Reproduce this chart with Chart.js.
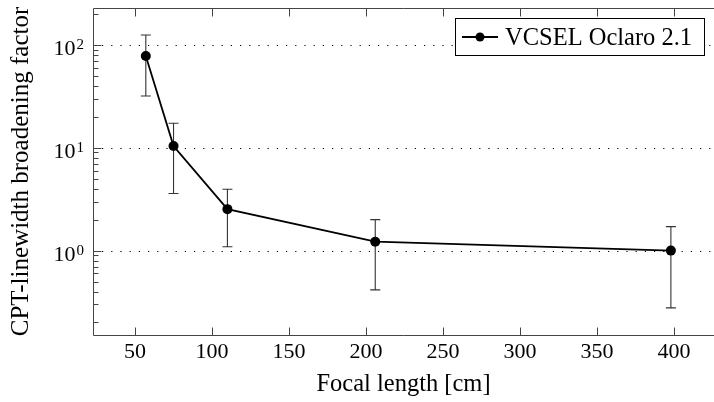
<!DOCTYPE html>
<html>
<head>
<meta charset="utf-8">
<script src="https://cdn.jsdelivr.net/npm/chart.js@4.4.0/dist/chart.umd.min.js"></script>
<style>
  html, body { margin: 0; padding: 0; background: #fff; }
  #wrap { width: 714px; height: 402px; }
</style>
</head>
<body>
<div id="wrap"><canvas id="focalChart"></canvas></div>
<script>
// values
const focalLengths = [57, 75, 110, 206, 398];
const broadening = [78, 10.4, 2.53, 1.22, 1.0];
const errHigh = [125, 17.3, 3.95, 2.0, 1.71];
const errLow = [31.9, 3.59, 1.09, 0.415, 0.277];
const xTicks = [50, 100, 150, 200, 250, 300, 350, 400];
const yDecades = [1, 10, 100];
const yExponents = ['0', '1', '2'];
const seriesLabel = 'VCSEL Oclaro 2.1';

const FONT = "'Liberation Serif', 'DejaVu Serif', serif";

// frame, ticks, dotted grid, error bars, legend box
const axesPlugin = {
  id: 'axesPlugin',
  beforeDatasetsDraw(chart) {
    const { ctx, chartArea: a, scales: { x, y } } = chart;
    ctx.save();
    // dotted grid at the decades
    ctx.strokeStyle = '#000';
    ctx.lineWidth = 1;
    ctx.setLineDash([1.2, 8]);
    yDecades.forEach(v => {
      const py = Math.round(y.getPixelForValue(v)) + 0.5;
      ctx.beginPath();
      ctx.moveTo(a.left + 9, py);
      ctx.lineTo(a.right, py);
      ctx.stroke();
    });
    ctx.setLineDash([]);

    // error bars
    ctx.strokeStyle = '#333';
    ctx.lineWidth = 1.1;
    focalLengths.forEach((fx, i) => {
      const px = x.getPixelForValue(fx);
      const top = y.getPixelForValue(errHigh[i]);
      const bot = y.getPixelForValue(errLow[i]);
      ctx.beginPath();
      ctx.moveTo(px, top); ctx.lineTo(px, bot);
      ctx.moveTo(px - 5, top); ctx.lineTo(px + 5, top);
      ctx.moveTo(px - 5, bot); ctx.lineTo(px + 5, bot);
      ctx.stroke();
    });
    ctx.restore();
  },
  afterDraw(chart) {
    const { ctx, chartArea: a, scales: { x, y } } = chart;
    ctx.save();
    ctx.strokeStyle = '#444';
    ctx.lineWidth = 1;
    const L = a.left + 0.5, T = a.top + 0.5, B = a.bottom + 0.5;
    ctx.beginPath();
    ctx.moveTo(a.right, T); ctx.lineTo(L, T); ctx.lineTo(L, B); ctx.lineTo(a.right, B);
    ctx.stroke();

    // x ticks top and bottom
    ctx.beginPath();
    xTicks.forEach(v => {
      const px = Math.round(x.getPixelForValue(v)) + 0.5;
      ctx.moveTo(px, B); ctx.lineTo(px, B - 8);
      ctx.moveTo(px, T); ctx.lineTo(px, T + 8);
    });
    // y ticks, major and minor
    for (let e = -1; e <= 2; e++) {
      for (let m = 1; m <= 9; m++) {
        const v = m * Math.pow(10, e);
        if (v < y.min || v > y.max) continue;
        const py = Math.round(y.getPixelForValue(v)) + 0.5;
        ctx.moveTo(L, py); ctx.lineTo(L + (m === 1 ? 8 : 5), py);
      }
    }
    ctx.stroke();

    // y tick labels 10^n
    ctx.fillStyle = '#000';
    ctx.textAlign = 'right';
    ctx.textBaseline = 'alphabetic';
    yDecades.forEach((v, i) => {
      const py = y.getPixelForValue(v);
      ctx.font = `15px ${FONT}`;
      const ew = ctx.measureText(yExponents[i]).width;
      ctx.fillText(yExponents[i], 84, py + 4);
      ctx.font = `22px ${FONT}`;
      ctx.fillText('10', 84 - ew - 1, py + 10);
    });

    // legend
    const lx = 455.5, ly = 18.5, lw = 249, lh = 37;
    ctx.fillStyle = '#fff';
    ctx.fillRect(lx, ly, lw, lh);
    ctx.strokeStyle = '#000';
    ctx.strokeRect(lx, ly, lw, lh);
    ctx.lineWidth = 2;
    ctx.beginPath();
    ctx.moveTo(462, 37); ctx.lineTo(498, 37);
    ctx.stroke();
    ctx.fillStyle = '#000';
    ctx.beginPath();
    ctx.arc(480, 37, 4.5, 0, Math.PI * 2);
    ctx.fill();
    ctx.textAlign = 'left';
    ctx.font = `24.5px ${FONT}`;
    ctx.fillText(chart.data.datasets[0].label, 505, 45);
    ctx.restore();
  }
};

new Chart(document.getElementById('focalChart'), {
  type: 'line',
  data: {
    datasets: [{
      label: seriesLabel,
      data: focalLengths.map((fx, i) => ({ x: fx, y: broadening[i] })),
      borderColor: '#000',
      backgroundColor: '#000',
      borderWidth: 1.8,
      pointRadius: 5,
      pointBackgroundColor: '#000',
      pointBorderWidth: 0,
      tension: 0
    }]
  },
  options: {
    responsive: true,
    maintainAspectRatio: false,
    animation: false,
    layout: { autoPadding: false, padding: { top: 8, right: 0, left: 0, bottom: 0 } },
    plugins: {
      legend: { display: false },
      tooltip: { enabled: false }
    },
    scales: {
      x: {
        type: 'linear',
        min: 22.7,
        max: 426,
        afterBuildTicks: s => { s.ticks = xTicks.map(v => ({ value: v })); },
        afterFit: s => { s.height = 67; s.paddingLeft = 0; s.paddingRight = 0; },
        grid: { display: false, drawTicks: false },
        border: { display: false },
        ticks: {
          color: '#000',
          padding: 4,
          maxRotation: 0,
          font: { family: FONT, size: 22 }
        },
        title: {
          display: true,
          text: 'Focal length [cm]',
          color: '#000',
          font: { family: FONT, size: 24.5 },
          padding: { top: 0, bottom: 3 }
        }
      },
      y: {
        type: 'logarithmic',
        min: 0.151,
        max: 229,
        afterFit: s => { s.width = 93; s.paddingTop = 0; s.paddingBottom = 0; },
        grid: { display: false, drawTicks: false },
        border: { display: false },
        ticks: { display: false },
        title: {
          display: true,
          text: 'CPT-linewidth broadening factor',
          color: '#000',
          font: { family: FONT, size: 25 },
          padding: { top: 6, bottom: 0 }
        }
      }
    }
  },
  plugins: [axesPlugin]
});
</script>
</body>
</html>
